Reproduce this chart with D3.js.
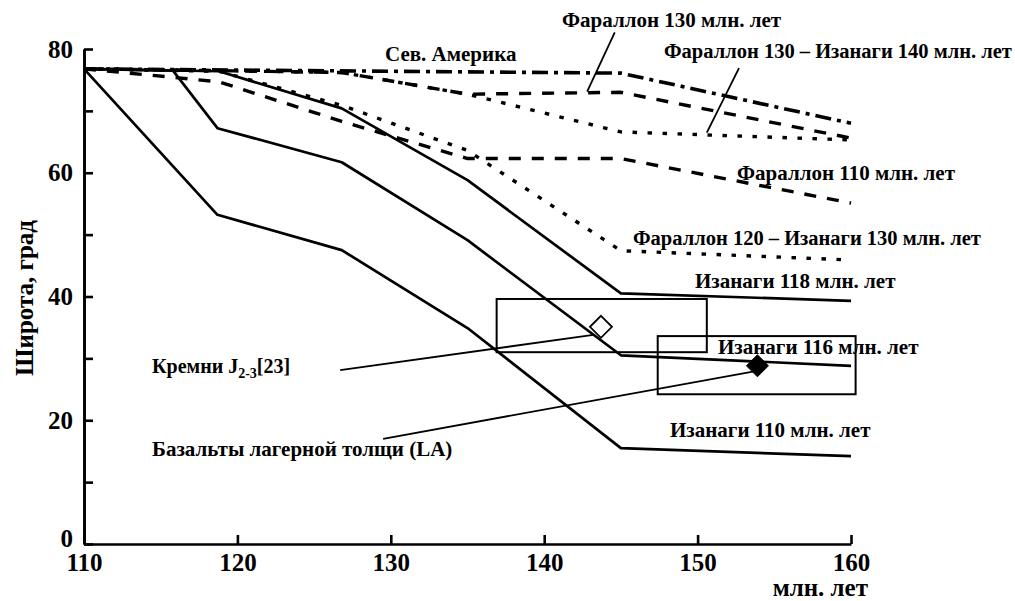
<!DOCTYPE html>
<html>
<head>
<meta charset="utf-8">
<script src="https://cdn.jsdelivr.net/npm/d3@7"></script>
<style>
  html, body { margin: 0; padding: 0; background: #fff; }
  svg { display: block; }
  text { font-family: "Liberation Serif", "Times New Roman", serif; font-weight: bold; fill: #000; }
</style>
</head>
<body>
<svg id="chart" width="1015" height="601"></svg>
<script>
// ---------------- data ----------------
const xTicks = [110, 120, 130, 140, 150, 160];
const yTicks = [0, 20, 40, 60, 80];
const yMinorTicks = [10, 30, 50, 70];
const xTitle = "млн. лет";
const yTitle = "Широта, град";

// Изанаги (solid)
const izanagi110 = [[110, 76.8], [118.7, 53.2], [126.8, 47.5], [135, 34.9], [145, 15.5], [160, 14.2]];
const izanagi116 = [[110, 76.8], [115.8, 76.5], [118.7, 67.2], [126.8, 61.7], [135, 49.1], [145, 30.5], [160, 28.8]];
const izanagi118 = [[110, 76.8], [118.8, 76.4], [126.8, 70.4], [135, 58.8], [145, 40.5], [160, 39.3]];
// Сев. Америка (dash-dot)
const northAmerica = [[110, 76.8], [145, 76.1], [160, 68.0]];
// Фараллон (dashed)
const farallon130 = [[110, 76.8], [118.8, 76.5], [126.8, 76.2], [135, 72.7], [145, 73.0], [160, 65.6]];
const farallon110 = [[110, 76.8], [118.8, 74.7], [126.8, 68.3], [135, 62.3], [145, 62.3], [160, 55.1]];
// Фараллон – Изанаги (dotted)
const far130iz140 = [[110, 76.8], [118.8, 76.5], [126.8, 76.2], [135, 72.7], [145, 66.6], [160, 65.3]];
const far120iz130 = [[110, 76.8], [118.8, 76.4], [126.8, 70.9], [135, 63.6], [145, 47.4], [160, 45.9]];

// paleomagnetic determinations: [age, latitude]
const kremniPoint = [143.7, 35.1];
const basaltPoint = [153.9, 28.8];
// uncertainty boxes: [ageMin, ageMax, latMin, latMax]
const kremniBox = [136.9, 150.6, 31.0, 39.6];
const basaltBox = [147.4, 160.3, 24.2, 33.6];

// label texts
const labelTexts = [
  "Фараллон 130 млн. лет",
  "Сев. Америка",
  "Фараллон 130 – Изанаги 140 млн. лет",
  "Фараллон 110 млн. лет",
  "Фараллон 120 – Изанаги 130 млн. лет",
  "Изанаги 118 млн. лет",
  "Изанаги 116 млн. лет",
  "Изанаги 110 млн. лет",
  "Базальты лагерной толщи (LA)"
];

// ---------------- layout ----------------
const svg = d3.select("#chart");
const X0 = 84, X1 = 851, Y0 = 544, Y1 = 49;
const x = d3.scaleLinear().domain([110, 160]).range([X0, X1]);
const y = d3.scaleLinear().domain([0, 80]).range([Y0, Y1]);

const line = d3.line().x(d => x(d[0])).y(d => y(d[1]));

const styles = {
  solid: { w: 2.7, dash: null },
  dashed: { w: 3.4, dash: "12,11" },
  dotted: { w: 3.4, dash: "4.5,10.5" },
  dashdot: { w: 3.6, dash: "16,6,4,6" }
};

const series = [
  { d: izanagi110, s: "solid" },
  { d: izanagi116, s: "solid" },
  { d: izanagi118, s: "solid" },
  { d: northAmerica, s: "dashdot" },
  { d: farallon130, s: "dashed" },
  { d: farallon110, s: "dashed" },
  { d: far130iz140, s: "dotted" },
  { d: far120iz130, s: "dotted" }
];

// boxes
[kremniBox, basaltBox].forEach(b => {
  svg.append("rect")
    .attr("x", x(b[0])).attr("y", y(b[3]))
    .attr("width", x(b[1]) - x(b[0])).attr("height", y(b[2]) - y(b[3]))
    .attr("fill", "none").attr("stroke", "#000").attr("stroke-width", 2);
});

series.forEach(sr => {
  const st = styles[sr.s];
  svg.append("path")
    .attr("d", line(sr.d))
    .attr("fill", "none")
    .attr("stroke", "#000")
    .attr("stroke-width", st.w)
    .attr("stroke-linejoin", "round")
    .attr("stroke-dasharray", st.dash);
});

// axes
const yAxis = d3.axisLeft(y).tickValues(yTicks).tickSize(-9).tickSizeOuter(0).tickPadding(11).tickFormat(d3.format("d"));
const yAxisMinor = d3.axisLeft(y).tickValues(yMinorTicks).tickSize(-9).tickSizeOuter(0).tickFormat("");
const xAxis = d3.axisBottom(x).tickValues(xTicks).tickSize(-9).tickSizeOuter(0).tickPadding(9).tickFormat(d3.format("d"));

function styleAxis(g) {
  g.selectAll("path, line").attr("stroke", "#000").attr("stroke-width", 2.6);
  g.selectAll("text").attr("font-size", 25).attr("font-family", "Liberation Serif").attr("font-weight", "bold").attr("fill", "#000");
}
svg.append("g").attr("transform", `translate(${X0},0)`).call(yAxisMinor).call(styleAxis);
const gy = svg.append("g").attr("transform", `translate(${X0},0)`).call(yAxis).call(styleAxis);
gy.selectAll(".tick text").filter(d => d === 0).attr("dy", "0.1em");
svg.append("g").attr("transform", `translate(0,${Y0})`).call(xAxis).call(styleAxis);

// axis titles
svg.append("text").attr("transform", "translate(33,298) rotate(-90)")
  .attr("text-anchor", "middle").attr("font-size", 25).text(yTitle);
svg.append("text").attr("x", 868).attr("y", 596)
  .attr("text-anchor", "end").attr("font-size", 25).text(xTitle);

// markers
const dsz = 11;
function diamond(cx, cy, r) { return `M${cx},${cy - r}L${cx + r},${cy}L${cx},${cy + r}L${cx - r},${cy}Z`; }
svg.append("path").attr("d", diamond(x(kremniPoint[0]), y(kremniPoint[1]), dsz))
  .attr("fill", "#fff").attr("stroke", "#000").attr("stroke-width", 1.8);
svg.append("path").attr("d", diamond(x(basaltPoint[0]), y(basaltPoint[1]), dsz))
  .attr("fill", "#000").attr("stroke", "#000").attr("stroke-width", 1);

// leader lines (in chart units)
const leaders = [
  [[144.6, 82.7], [142.8, 73.1]],
  [[152.7, 76.9], [150.6, 66.5]],
  [[126.7, 28.1], [143.2, 33.8]],
  [[129.5, 17.0], [153.7, 27.9]]
];
leaders.forEach(l => {
  svg.append("line")
    .attr("x1", x(l[0][0])).attr("y1", y(l[0][1]))
    .attr("x2", x(l[1][0])).attr("y2", y(l[1][1]))
    .attr("stroke", "#000").attr("stroke-width", 1.8);
});

// labels (pixel layout: x, baseline y, font size)
const labelPos = [
  [562, 27, 21], [385, 61, 21], [664, 58, 20.5], [737, 180, 21], [633, 245, 20.5],
  [695, 288, 21], [718, 354, 21], [670, 437, 21], [152, 456, 21]
];
labelTexts.forEach((t, i) => {
  svg.append("text").attr("x", labelPos[i][0]).attr("y", labelPos[i][1])
    .attr("font-size", labelPos[i][2]).text(t);
});
// Кремни J2-3[23] with subscript
const kt = svg.append("text").attr("x", 152).attr("y", 373).attr("font-size", 20);
kt.append("tspan").text("Кремни J");
kt.append("tspan").attr("font-size", 14).attr("dy", 5).text("2-3");
kt.append("tspan").attr("dy", -5).text("[23]");
</script>
</body>
</html>
